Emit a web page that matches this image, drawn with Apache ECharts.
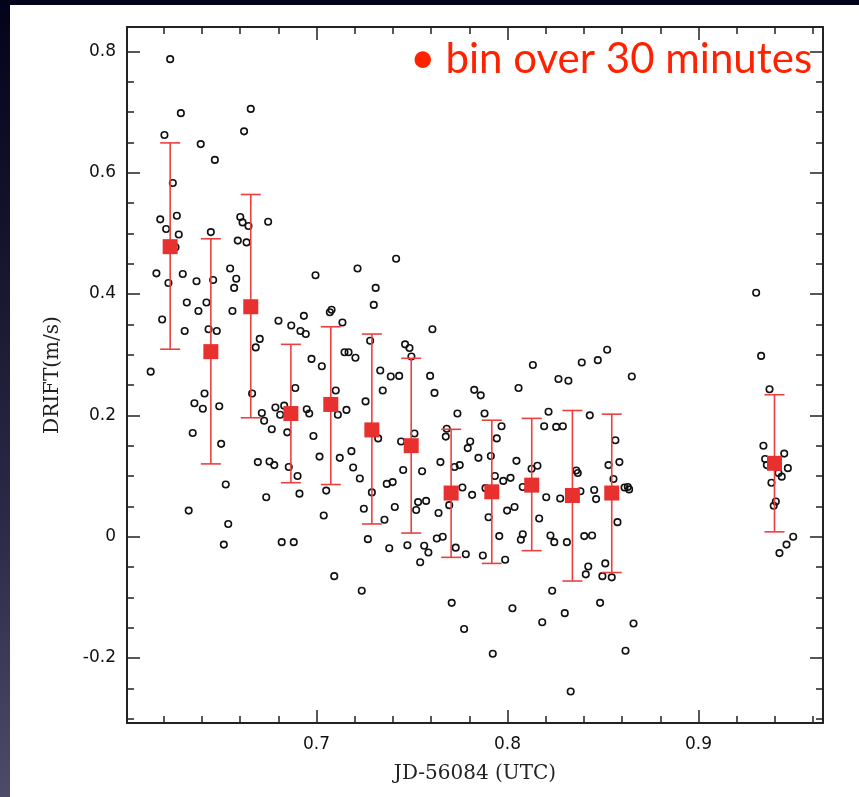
<!DOCTYPE html>
<html><head><meta charset="utf-8">
<script src="https://cdn.jsdelivr.net/npm/echarts@6/dist/echarts.min.js"></script>
<style>
html,body{margin:0;padding:0;background:#03031a;}
#frame{position:relative;width:859px;height:797px;background:linear-gradient(to bottom,#03031a 0%,#14142e 30%,#2a2a46 65%,#4c4c68 100%);overflow:hidden;}
#paper{position:absolute;left:10px;top:5px;right:0;bottom:0;background:#fff;}
#chart{position:absolute;left:0;top:0;width:859px;height:797px;}
</style></head>
<body><div id="frame"><div id="paper"></div><div id="chart"></div></div>
<script>
// individual measurements
const pointX = [0.6234,0.6290,0.6656,0.6621,0.6204,0.6394,0.6468,0.6248,0.6182,0.6269,
0.6213,0.6279,0.6447,0.6601,0.6613,0.6644,0.6747,0.6588,0.6634,0.6262,
0.6162,0.6300,0.6225,0.6372,0.6459,0.6548,0.6580,0.6569,0.6995,0.7215,
0.7310,0.7417,0.6321,0.6424,0.6192,0.6382,0.6560,0.6310,0.6435,0.6478,
0.6132,0.6414,0.6361,0.6405,0.6491,0.6352,0.6501,0.6525,0.6331,0.6538,
0.6515,0.6663,0.6682,0.6703,0.6801,0.6868,0.6934,0.6916,0.6944,0.6974,
0.7028,0.7070,0.7079,0.7136,0.7147,0.7168,0.7204,0.7300,0.7281,0.7334,
0.7389,0.7433,0.7347,0.7257,0.7323,0.7443,0.7368,0.7399,0.7410,0.7356,
0.7290,0.7248,0.7269,0.7381,0.7093,0.6889,0.6714,0.6726,0.6766,0.6785,
0.6810,0.6831,0.6847,0.6949,0.6962,0.6984,0.7016,0.7101,0.7112,0.7157,
0.7183,0.7122,0.7192,0.7227,0.7051,0.7038,0.6693,0.6754,0.6779,0.6737,
0.6855,0.6901,0.6911,0.6818,0.6881,0.7237,0.7607,0.7464,0.7487,0.7497,
0.7595,0.7618,0.7826,0.7860,0.8133,0.8058,0.8267,0.8319,0.8389,0.8473,
0.8522,0.8651,0.7738,0.7880,0.8215,0.8431,0.7969,0.8192,0.8255,0.8290,
0.7682,0.7677,0.7513,0.7805,0.7792,0.7944,0.8565,0.7848,0.7913,0.7649,
0.8047,0.7454,0.7553,0.8126,0.8157,0.8529,0.8586,0.8360,0.8368,0.7934,
0.7978,0.8016,0.8555,0.7723,0.7750,0.7764,0.7885,0.8080,0.8382,0.8454,
0.8613,0.8630,0.8637,0.8203,0.8276,0.8464,0.7815,0.7532,0.7574,0.7522,
0.7639,0.7695,0.7901,0.7998,0.8037,0.8166,0.8576,0.7476,0.7564,0.7630,
0.7661,0.7729,0.7957,0.8070,0.8080,0.8225,0.8245,0.8311,0.8402,0.8443,
0.7586,0.7543,0.7782,0.7871,0.7988,0.8423,0.8410,0.8512,0.8497,0.8546,
0.7708,0.7773,0.7923,0.8026,0.8234,0.8182,0.8300,0.8485,0.8660,0.8618,
0.8331,0.9302,0.9328,0.9372,0.9340,0.9349,0.9358,0.9449,0.9468,0.9419,
0.9436,0.9382,0.9405,0.9394,0.9496,0.9461,0.9424];
const pointY = [0.787,0.698,0.705,0.668,0.662,0.647,0.621,0.583,0.523,0.529,
0.507,0.498,0.502,0.527,0.518,0.512,0.519,0.488,0.485,0.477,
0.434,0.433,0.418,0.421,0.423,0.442,0.425,0.410,0.431,0.442,
0.410,0.458,0.386,0.386,0.358,0.372,0.372,0.339,0.342,0.339,
0.272,0.236,0.220,0.211,0.215,0.171,0.153,0.086,0.043,0.021,
-0.013,0.236,0.312,0.326,0.356,0.348,0.364,0.339,0.334,0.293,
0.281,0.370,0.374,0.353,0.304,0.304,0.295,0.382,0.323,0.274,
0.264,0.265,0.241,0.223,0.162,0.157,0.087,0.090,0.049,0.028,
0.073,0.046,-0.004,-0.019,-0.065,0.245,0.204,0.191,0.177,0.213,
0.201,0.216,0.172,0.210,0.203,0.166,0.132,0.241,0.201,0.209,
0.141,0.130,0.114,0.096,0.076,0.035,0.123,0.124,0.118,0.065,
0.115,0.100,0.071,-0.009,-0.009,-0.089,0.342,0.317,0.311,0.297,
0.265,0.237,0.242,0.233,0.283,0.245,0.260,0.257,0.287,0.291,
0.308,0.264,0.203,0.203,0.206,0.200,0.182,0.182,0.181,0.182,
0.178,0.165,0.170,0.157,0.146,0.162,0.159,0.130,0.133,0.123,
0.125,0.110,0.108,0.112,0.117,0.118,0.123,0.109,0.105,0.100,
0.092,0.097,0.095,0.115,0.118,0.081,0.080,0.082,0.075,0.077,
0.081,0.082,0.078,0.065,0.063,0.062,0.069,0.057,0.059,0.044,
0.039,0.052,0.032,0.043,0.049,0.030,0.024,-0.014,-0.015,-0.003,
0.000,-0.018,0.001,-0.005,0.004,0.002,-0.009,-0.009,0.001,0.002,
-0.026,-0.042,-0.029,-0.031,-0.038,-0.049,-0.062,-0.044,-0.065,-0.067,
-0.109,-0.152,-0.193,-0.118,-0.089,-0.141,-0.126,-0.109,-0.143,-0.188,
-0.255,0.402,0.298,0.243,0.150,0.128,0.118,0.137,0.113,0.105,
0.099,0.089,0.058,0.051,0.000,-0.013,-0.027];

// 30-minute bins
const binX    = [0.6234,0.6447,0.6656,0.6866,0.7075,0.7290,0.7496,0.7705,0.7918,0.8127,0.8340,0.8546,0.9398];
const binY    = [0.478,0.305,0.379,0.203,0.218,0.176,0.150,0.072,0.074,0.085,0.068,0.072,0.121];
const binHigh = [0.649,0.491,0.564,0.317,0.346,0.334,0.294,0.177,0.192,0.195,0.208,0.202,0.234];
const binLow  = [0.309,0.120,0.196,0.089,0.086,0.021,0.006,-0.034,-0.044,-0.023,-0.073,-0.059,0.008];

// ticks
const xMajorTicks = [0.7,0.8,0.9];
const xMinorTicks = [0.62,0.64,0.66,0.68,0.72,0.74,0.76,0.78,0.82,0.84,0.86,0.88,0.92,0.94,0.96];
const yMajorTicks = [-0.2,0,0.2,0.4,0.6,0.8];
const yMinorTicks = [-0.3,-0.25,-0.15,-0.1,-0.05,0.05,0.1,0.15,0.25,0.3,0.35,0.45,0.5,0.55,0.65,0.7,0.75];

const xName = 'JD-56084 (UTC)';
const yName = 'DRIFT(m/s)';
const noteText = 'bin over 30 minutes';

const X_MIN = 0.6008, X_MAX = 0.9652, Y_MIN = -0.307, Y_MAX = 0.840;
const axisColor = '#222';
const labelStyle = {fontFamily:'DejaVu Sans', fontSize:17, color:'#111'};
const fmt = v => (Math.abs(v) < 1e-9 ? '0' : v.toFixed(1));

function xAx(pos, ticks, len, main) {
  return {
    type:'value', position:pos, min:X_MIN, max:X_MAX,
    axisLine:{show:main, onZero:false, lineStyle:{color:axisColor, width:2}},
    axisTick:{show:true, inside:true, length:len, customValues:ticks, lineStyle:{color:axisColor, width:1.5}},
    axisLabel: (main && pos==='bottom') ? Object.assign({show:true, customValues:xMajorTicks, formatter:fmt, margin:13}, labelStyle) : {show:false},
    splitLine:{show:false},
    name: (main && pos==='bottom') ? xName : '',
    nameLocation:'middle', nameGap:41,
    nameTextStyle:{fontFamily:'DejaVu Serif', fontSize:20, color:'#222'}
  };
}
function yAx(pos, ticks, len, main) {
  return {
    type:'value', position:pos, min:Y_MIN, max:Y_MAX,
    axisLine:{show:main, onZero:false, lineStyle:{color:axisColor, width:2}},
    axisTick:{show:true, inside:true, length:len, customValues:ticks, lineStyle:{color:axisColor, width:1.5}},
    axisLabel: (main && pos==='left') ? Object.assign({show:true, customValues:yMajorTicks, formatter:fmt, margin:11}, labelStyle) : {show:false},
    splitLine:{show:false},
    name: (main && pos==='left') ? yName : '',
    nameLocation:'middle', nameGap:64,
    nameTextStyle:{fontFamily:'DejaVu Serif', fontSize:20, color:'#222'}
  };
}

const chart = echarts.init(document.getElementById('chart'), null, {renderer:'canvas'});
chart.setOption({
  animation:false,
  backgroundColor:'transparent',
  grid:{left:127, top:27, width:696, height:696, containLabel:false},
  xAxis:[xAx('bottom', xMajorTicks, 13, true), xAx('bottom', xMinorTicks, 7, false),
         xAx('top', xMajorTicks, 13, true), xAx('top', xMinorTicks, 7, false)],
  yAxis:[yAx('left', yMajorTicks, 13, true), yAx('left', yMinorTicks, 7, false),
         yAx('right', yMajorTicks, 13, true), yAx('right', yMinorTicks, 7, false)],
  graphic:[{
    type:'text', left:410, top:37, z:10,
    style:{
      text:'{d|•}' + noteText,
      fill:'#ff2200',
      font:'42px Lato',
      rich:{d:{fontSize:44, fontFamily:'Lato', fill:'#ff2200', padding:[0,10,0,0]}}
    }
  }],
  series:[
    {
      type:'scatter', xAxisIndex:0, yAxisIndex:0, z:2,
      symbol:'circle', symbolSize:6.5,
      itemStyle:{color:'rgba(255,255,255,0)', borderColor:'#111', borderWidth:1.6, opacity:1},
      data: pointX.map((x,i)=>[x, pointY[i]])
    },
    {
      type:'custom', xAxisIndex:0, yAxisIndex:0, z:3,
      data: binX.map((x,i)=>[x, binY[i], binLow[i], binHigh[i]]),
      renderItem:function(params, api){
        const x = api.value(0);
        const lo = api.coord([x, api.value(2)]);
        const hi = api.coord([x, api.value(3)]);
        const hw = 10;
        const st = {stroke:'#ec4040', lineWidth:1.6};
        return {type:'group', children:[
          {type:'line', shape:{x1:lo[0], y1:lo[1], x2:hi[0], y2:hi[1]}, style:st},
          {type:'line', shape:{x1:lo[0]-hw, y1:lo[1], x2:lo[0]+hw, y2:lo[1]}, style:st},
          {type:'line', shape:{x1:hi[0]-hw, y1:hi[1], x2:hi[0]+hw, y2:hi[1]}, style:st}
        ]};
      }
    },
    {
      type:'scatter', xAxisIndex:0, yAxisIndex:0, z:4,
      symbol:'rect', symbolSize:15,
      itemStyle:{color:'#e8302e', opacity:1},
      data: binX.map((x,i)=>[x, binY[i]])
    }
  ]
});
</script>
</body></html>
